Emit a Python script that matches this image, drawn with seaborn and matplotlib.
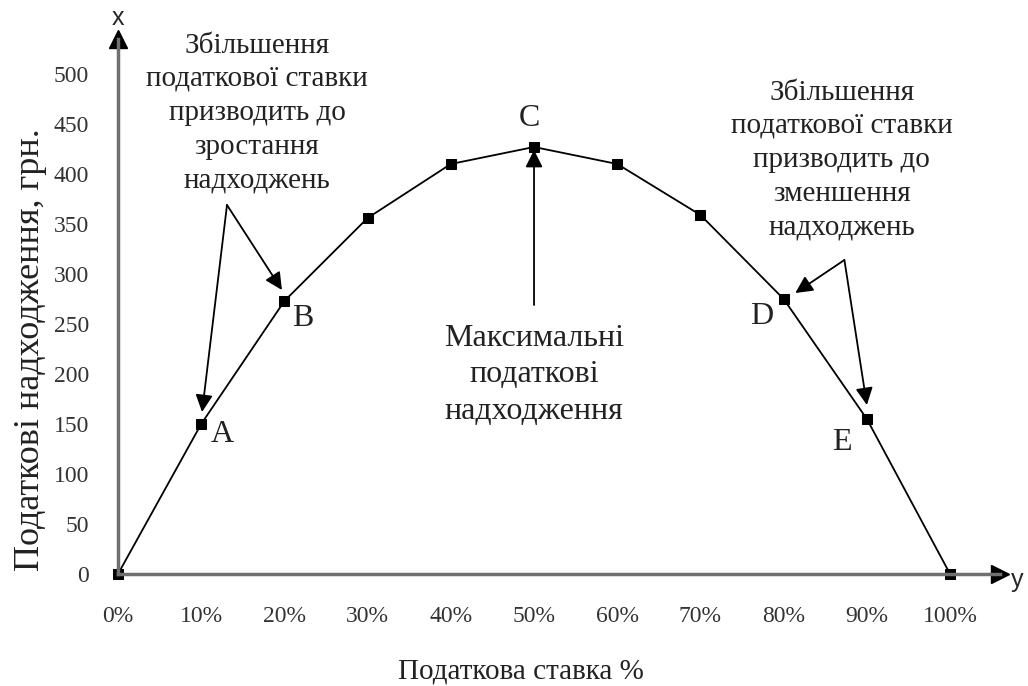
import matplotlib
matplotlib.use('Agg')
import matplotlib.pyplot as plt
import seaborn as sns

# ставка податку (%) та податкові надходження (грн.)
rates = [0, 10, 20, 30, 40, 50, 60, 70, 80, 90, 100]
revenue = [0, 150, 273, 356, 410, 427, 410, 359, 275, 155, 0]
point_names = ['A', 'B', 'C', 'D', 'E']
y_ticks = [0, 50, 100, 150, 200, 250, 300, 350, 400, 450, 500]
x_labels = [f'{r}%' for r in rates]

sns.set_style('white')
plt.rcParams['font.family'] = ['Liberation Serif', 'DejaVu Serif']

fig = plt.figure(figsize=(10.28, 6.86), dpi=100)
ax = fig.add_axes([118 / 1028, 112 / 686, 882 / 1028, 535 / 686])

sns.lineplot(x=rates, y=revenue, ax=ax, color='black', lw=1.3,
             marker='s', markersize=7, markeredgecolor='black', markerfacecolor='black')
for m in ax.lines:
    m.set_clip_on(False)

ax.set_xlim(0, 106)
ax.set_ylim(0, 535)
ax.set_xticks(rates)
ax.set_xticklabels(x_labels)
ax.set_yticks(y_ticks)
ax.tick_params(axis='both', labelsize=17, colors='#333333', length=7, width=1.4,
               direction='out', pad=14)
ax.tick_params(axis='x', pad=16)

for s in ['top', 'right']:
    ax.spines[s].set_visible(False)
for s in ['left', 'bottom']:
    ax.spines[s].set_color('#707070')
    ax.spines[s].set_linewidth(2.5)

# стрілки на кінцях осей
ax.plot(1, 0, '>k', ms=13, transform=ax.get_yaxis_transform(), clip_on=False)
ax.plot(0, 1, '^k', ms=13, transform=ax.get_xaxis_transform(), clip_on=False)
fig.text(118 / 1028, 1 - 18 / 686, 'x', family='Liberation Sans', fontsize=18,
         ha='center', va='center')
fig.text(1017 / 1028, 1 - 580 / 686, 'y', family='Liberation Sans', fontsize=18,
         ha='center', va='center')

ax.set_ylabel('Податкові надходження, грн.', fontsize=26, color='#222222')
ax.yaxis.set_label_coords(-0.08, 0.42)
ax.set_xlabel('Податкова ставка %', fontsize=21, color='#222222', va='center')
ax.xaxis.set_label_coords(0.457, -0.183)

# позначки точок
label_pos = {'A': (12.5, 139), 'B': (22.2, 256), 'C': (49.5, 456), 'D': (77.4, 257), 'E': (87.0, 131)}
for name in point_names:
    ax.text(*label_pos[name], name, fontsize=23, color='#222222', ha='center', va='center')

# пояснювальні тексти
ax.text(16.7, 461, 'Збільшення\nподаткової ставки\nпризводить до\nзростання\nнадходжень',
        fontsize=21, color='#222222', ha='center', va='center', linespacing=1.38)
ax.text(87.0, 414, 'Збільшення\nподаткової ставки\nпризводить до\nзменшення\nнадходжень',
        fontsize=21, color='#222222', ha='center', va='center', linespacing=1.38)
ax.text(50, 199, 'Максимальні\nподаткові\nнадходження',
        fontsize=23, color='#222222', ha='center', va='center', linespacing=1.35)

arrow = dict(arrowstyle='-|>', color='black', lw=1.3, mutation_scale=26,
             shrinkA=0, shrinkB=0)
ax.annotate('', xy=(10.1, 162), xytext=(13.1, 369), arrowprops=arrow)
ax.annotate('', xy=(19.7, 284), xytext=(13.1, 369), arrowprops=arrow)
ax.annotate('', xy=(81.4, 281), xytext=(87.3, 314), arrowprops=arrow)
ax.annotate('', xy=(90.0, 169), xytext=(87.3, 314), arrowprops=arrow)
ax.annotate('', xy=(50, 424), xytext=(50, 269), arrowprops=arrow)

fig.savefig('out.png', dpi=100)
